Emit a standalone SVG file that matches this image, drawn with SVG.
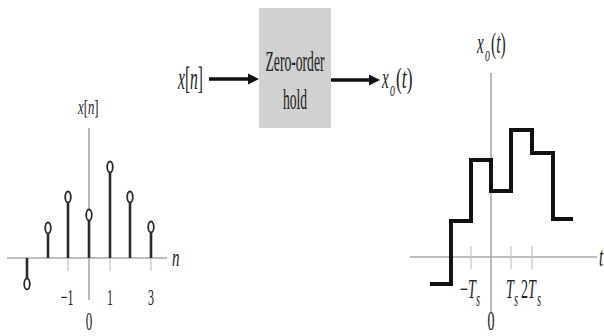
<svg xmlns="http://www.w3.org/2000/svg" width="604" height="336" viewBox="0 0 604 336">
<style>
.t{font-family:"Liberation Serif","Times New Roman",serif;fill:#222}
.i{font-style:italic}
.ax{stroke:#a8a8a8;stroke-width:1.6;fill:none}
.tk{stroke:#c4c4c4;stroke-width:1.2}
.stem{stroke:#2a2a2a;stroke-width:2.6}
.dot{fill:#fff;stroke:#2a2a2a;stroke-width:1.8}
.stair{stroke:#111;stroke-width:4;fill:none;stroke-linejoin:miter}
.arr{stroke:#111;stroke-width:3.5}
</style>
<rect width="604" height="336" fill="#fff"/>

<!-- Left plot: x[n] -->
<g id="plot-xn">
  <line class="ax" x1="7" y1="258" x2="167" y2="258"/>
  <line class="ax" x1="89" y1="128" x2="89" y2="300"/>
  <line class="tk" x1="68" y1="258" x2="68" y2="271"/>
  <line class="tk" x1="110" y1="258" x2="110" y2="271"/>
  <line class="tk" x1="151" y1="258" x2="151" y2="271"/>
  <line class="stem" x1="27" y1="258" x2="27" y2="279"/>
  <line class="stem" x1="48" y1="258" x2="48" y2="233"/>
  <line class="stem" x1="68" y1="258" x2="68" y2="202"/>
  <line class="stem" x1="89" y1="258" x2="89" y2="220"/>
  <line class="stem" x1="110" y1="258" x2="110" y2="172"/>
  <line class="stem" x1="130" y1="258" x2="130" y2="202"/>
  <line class="stem" x1="151" y1="258" x2="151" y2="232"/>
  <ellipse class="dot" cx="27" cy="284" rx="2.8" ry="5.5"/>
  <ellipse class="dot" cx="48" cy="228" rx="2.8" ry="5.5"/>
  <ellipse class="dot" cx="68" cy="197" rx="2.8" ry="5.5"/>
  <ellipse class="dot" cx="89" cy="215" rx="2.8" ry="5.5"/>
  <ellipse class="dot" cx="110" cy="167" rx="2.8" ry="5.5"/>
  <ellipse class="dot" cx="130" cy="197" rx="2.8" ry="5.5"/>
  <ellipse class="dot" cx="151" cy="227" rx="2.8" ry="5.5"/>
  <text class="t" font-size="22" transform="translate(78,114) scale(0.58,1)"><tspan class="i">x</tspan>[<tspan class="i">n</tspan>]</text>
  <text class="t i" font-size="26" transform="translate(172,266) scale(0.58,1)">n</text>
  <text class="t" font-size="23" text-anchor="middle" transform="translate(67,305) scale(0.52,1)">−1</text>
  <text class="t" font-size="23" text-anchor="middle" transform="translate(110,305) scale(0.52,1)">1</text>
  <text class="t" font-size="23" text-anchor="middle" transform="translate(151,305) scale(0.52,1)">3</text>
  <text class="t" font-size="25" text-anchor="middle" transform="translate(89,330) scale(0.52,1)">0</text>
</g>

<!-- Zero-order hold block -->
<g id="in-label">
  <text class="t" font-size="31" transform="translate(178,89) scale(0.5,1)"><tspan class="i">x</tspan>[<tspan class="i">n</tspan>]</text>
</g>
<g id="zoh">
  <rect x="259" y="8" width="72" height="120" fill="#d1d1d1"/>
  <text class="t" font-size="29" text-anchor="middle" transform="translate(295,71) scale(0.47,1)">Zero-order</text>
  <text class="t" font-size="29" text-anchor="middle" transform="translate(295,109) scale(0.47,1)">hold</text>
</g>
<g id="out-label">
  <text class="t i" font-size="30" transform="translate(382,88) scale(0.5,1)">x</text>
  <text class="t i" font-size="20" transform="translate(390,96) scale(0.5,1)">o</text>
  <text class="t" font-size="30" transform="translate(396,88) scale(0.58,1)">(<tspan class="i">t</tspan>)</text>
</g>
<g id="connectors">
  <line class="arr" x1="209" y1="79" x2="250" y2="79"/>
  <polygon points="259,79 248,73.5 248,84.5" fill="#111"/>
  <line class="arr" x1="331" y1="80" x2="371" y2="80"/>
  <polygon points="380,80 369,74.5 369,85.5" fill="#111"/>
</g>

<!-- Right plot: x_o(t) -->
<g id="plot-xot">
  <line class="ax" x1="410" y1="257" x2="597" y2="257"/>
  <line class="ax" x1="491" y1="73" x2="491" y2="312"/>
  <line class="tk" x1="471" y1="246" x2="471" y2="269"/>
  <line class="tk" x1="511" y1="246" x2="511" y2="269"/>
  <line class="tk" x1="532" y1="246" x2="532" y2="269"/>
  <polyline class="stair" points="430,284 451,284 451,221 471,221 471,160 491,160 491,191 511,191 511,130 532,130 532,153 553,153 553,219 573,219"/>
  <text class="t i" font-size="30" transform="translate(477,53) scale(0.5,1)">x</text>
  <text class="t i" font-size="20" transform="translate(485,61) scale(0.5,1)">o</text>
  <text class="t" font-size="30" transform="translate(491,53) scale(0.52,1)">(<tspan class="i">t</tspan>)</text>
  <text class="t i" font-size="28" transform="translate(599,266) scale(0.55,1)">t</text>
  <text class="t" font-size="27" transform="translate(460,298) scale(0.52,1)">−<tspan class="i">T</tspan></text>
  <text class="t i" font-size="20" transform="translate(476,306) scale(0.52,1)">s</text>
  <text class="t" font-size="27" text-anchor="middle" transform="translate(491,330) scale(0.52,1)">0</text>
  <text class="t i" font-size="27" transform="translate(506,298) scale(0.52,1)">T</text>
  <text class="t i" font-size="20" transform="translate(514,306) scale(0.52,1)">s</text>
  <text class="t" font-size="27" transform="translate(521,298) scale(0.52,1)">2<tspan class="i">T</tspan></text>
  <text class="t i" font-size="20" transform="translate(537,306) scale(0.52,1)">s</text>
</g>
</svg>
